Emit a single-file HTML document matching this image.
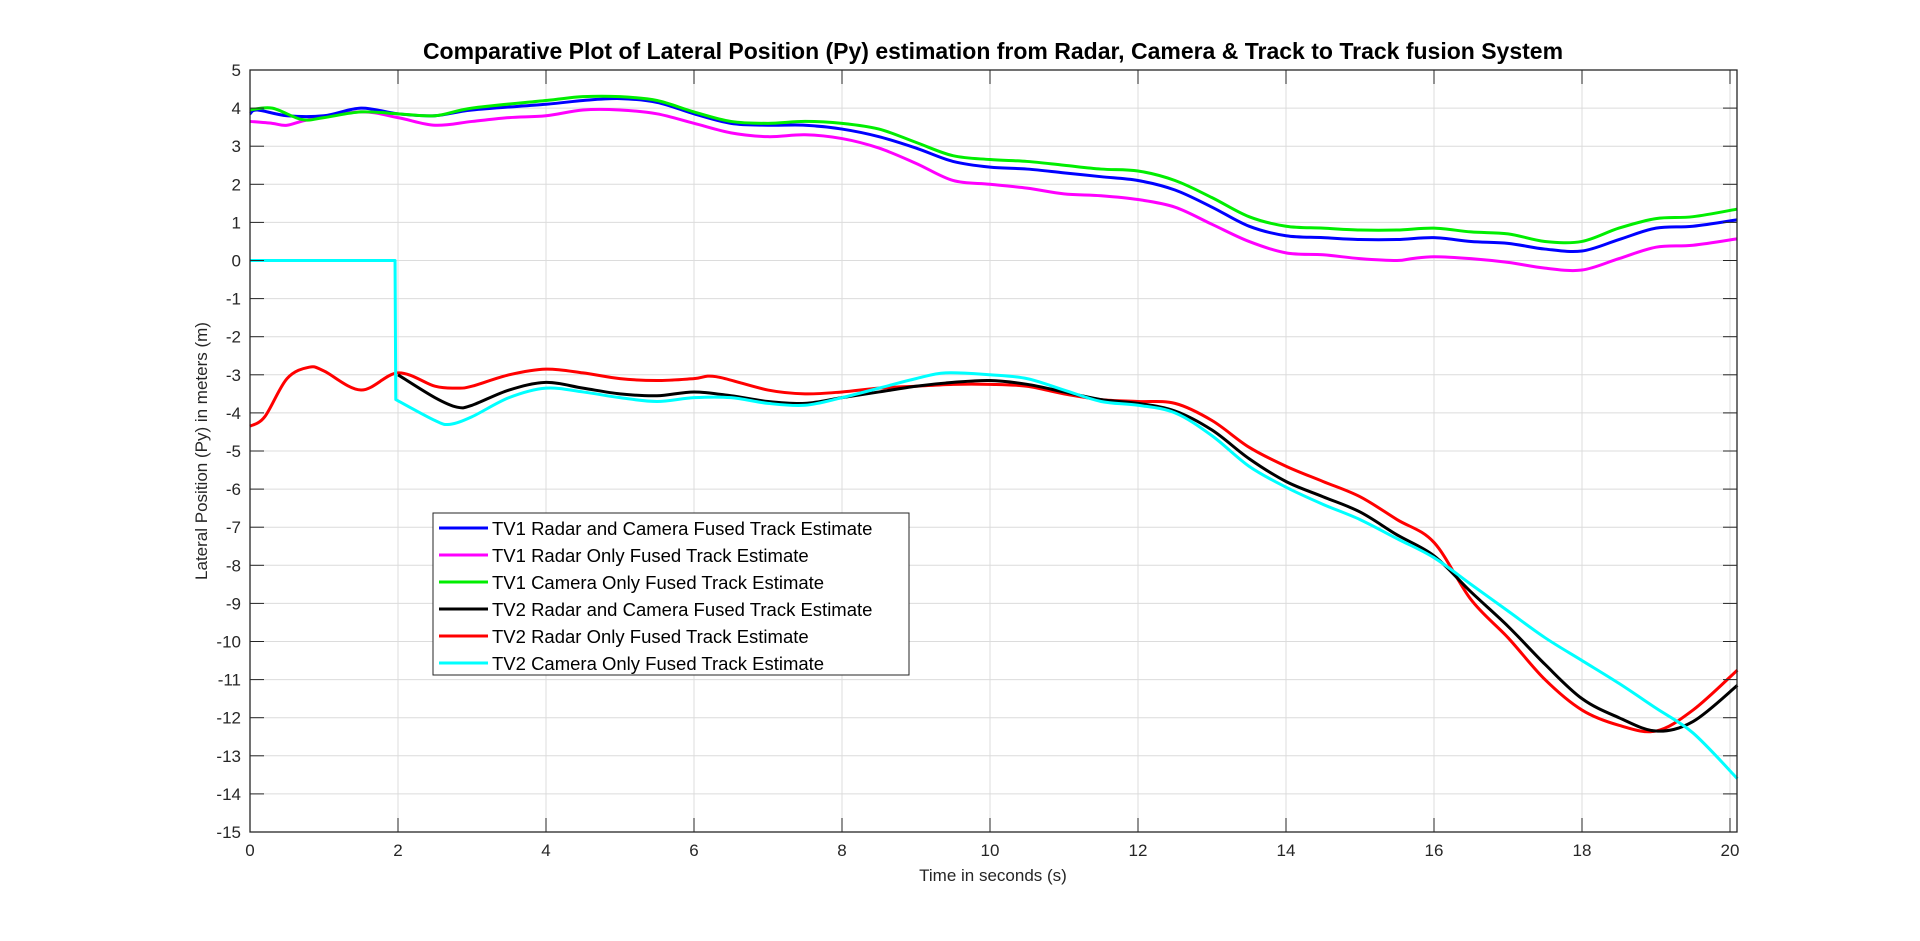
<!DOCTYPE html>
<html><head><meta charset="utf-8"><style>
body{margin:0;background:#fff;}
svg text{font-family:"Liberation Sans",Arial,sans-serif;}
</style></head><body>
<svg id="chart" width="1920" height="936" xmlns="http://www.w3.org/2000/svg">
<rect width="1920" height="936" fill="#fff"/>
<g id="grid"></g>
<g id="series"></g>
<rect x="250" y="70" width="1487" height="762" fill="none" stroke="#262626" stroke-width="1.3"/>
<g id="ticks"></g>
<text x="993" y="59" text-anchor="middle" font-size="23" font-weight="bold" fill="#000">Comparative Plot of Lateral Position (Py) estimation from Radar, Camera &amp; Track to Track fusion System</text>
<text x="993" y="881" text-anchor="middle" font-size="17" fill="#262626">Time in seconds (s)</text>
<text transform="translate(207,451) rotate(-90)" text-anchor="middle" font-size="17" fill="#262626">Lateral Position (Py) in meters (m)</text>
<g id="legend"></g>
</svg>
<script>
const xTicks=[0,2,4,6,8,10,12,14,16,18,20];
const yTicks=[5,4,3,2,1,0,-1,-2,-3,-4,-5,-6,-7,-8,-9,-10,-11,-12,-13,-14,-15];
const seriesNames=["TV1 Radar and Camera Fused Track Estimate","TV1 Radar Only Fused Track Estimate","TV1 Camera Only Fused Track Estimate","TV2 Radar and Camera Fused Track Estimate","TV2 Radar Only Fused Track Estimate","TV2 Camera Only Fused Track Estimate"];
const seriesColors=["#0000ff","#ff00ff","#00ee00","#000000","#ff0000","#00ffff"];
const tv1FusedT=[0,0.1,0.5,1,1.5,2,2.5,3,4,4.5,5,5.5,6,6.5,7,7.5,8,8.5,9,9.5,10,10.5,11,11.5,12,12.5,13,13.5,14,14.5,15,15.5,16,16.5,17,17.5,18,18.5,19,19.5,20.1];
const tv1FusedY=[3.85,3.95,3.8,3.8,4.0,3.85,3.8,3.95,4.1,4.2,4.25,4.15,3.85,3.6,3.55,3.55,3.45,3.25,2.95,2.6,2.45,2.4,2.3,2.2,2.1,1.85,1.4,0.9,0.65,0.6,0.55,0.55,0.6,0.5,0.45,0.3,0.25,0.55,0.85,0.9,1.07];
const tv1RadarT=[0,0.3,0.5,0.8,1.5,2,2.5,3,3.5,4,4.5,5,5.5,6,6.5,7,7.5,8,8.5,9,9.5,10,10.5,11,11.5,12,12.5,13,13.5,14,14.5,15,15.5,15.7,16,16.5,17,17.5,18,18.5,19,19.5,20.1];
const tv1RadarY=[3.65,3.6,3.55,3.7,3.9,3.75,3.55,3.65,3.75,3.8,3.95,3.95,3.85,3.6,3.35,3.25,3.3,3.2,2.95,2.55,2.1,2.0,1.9,1.75,1.7,1.6,1.4,0.95,0.5,0.2,0.15,0.05,0.0,0.05,0.1,0.05,-0.05,-0.2,-0.25,0.05,0.35,0.4,0.57];
const tv1CameraT=[0,0.3,0.7,1,1.5,2,2.5,3,4,4.5,5,5.5,6,6.5,7,7.5,8,8.5,9,9.5,10,10.5,11,11.5,12,12.5,13,13.5,14,14.5,15,15.5,16,16.5,17,17.5,18,18.5,19,19.5,20.1];
const tv1CameraY=[3.95,4.0,3.7,3.75,3.9,3.85,3.8,4.0,4.2,4.3,4.3,4.2,3.9,3.65,3.6,3.65,3.6,3.45,3.1,2.75,2.65,2.6,2.5,2.4,2.35,2.1,1.65,1.15,0.9,0.85,0.8,0.8,0.85,0.75,0.7,0.5,0.5,0.85,1.1,1.15,1.35];
const tv2FusedT=[2,2.5,2.8,3,3.5,4,4.5,5,5.5,6,6.5,7,7.5,8,8.5,9,9.5,10,10.5,11,11.5,12,12.5,13,13.5,14,14.5,15,15.5,16,16.5,17,17.5,18,18.5,19,19.5,20.1];
const tv2FusedY=[-3.0,-3.6,-3.85,-3.8,-3.4,-3.2,-3.35,-3.5,-3.55,-3.45,-3.55,-3.7,-3.75,-3.6,-3.45,-3.3,-3.2,-3.15,-3.25,-3.45,-3.65,-3.75,-3.95,-4.45,-5.2,-5.8,-6.2,-6.6,-7.2,-7.75,-8.7,-9.6,-10.6,-11.5,-12.0,-12.35,-12.1,-11.15];
const tv2RadarT=[0,0.2,0.5,0.8,1,1.5,2,2.5,2.8,3,3.5,4,4.5,5,5.5,6,6.3,7,7.5,8,8.5,9,9.5,10,10.5,11,11.5,12,12.5,13,13.5,14,14.5,15,15.5,16,16.5,17,17.5,18,18.5,19,19.5,20.1];
const tv2RadarY=[-4.35,-4.1,-3.1,-2.8,-2.9,-3.4,-2.95,-3.3,-3.35,-3.3,-3.0,-2.85,-2.95,-3.1,-3.15,-3.1,-3.05,-3.4,-3.5,-3.45,-3.35,-3.3,-3.25,-3.25,-3.3,-3.5,-3.65,-3.7,-3.75,-4.2,-4.9,-5.4,-5.8,-6.2,-6.8,-7.4,-8.9,-9.9,-11.0,-11.8,-12.2,-12.35,-11.8,-10.75];
const tv2CameraT=[0,1.96,1.97,2.5,2.7,3,3.5,4,4.5,5,5.5,6,6.5,7,7.5,8,8.5,9,9.4,10,10.5,11,11.5,12,12.5,13,13.5,14,14.5,15,15.5,16,16.5,17,17.5,18,18.5,19,19.5,20.1];
const tv2CameraY=[0,0,-3.65,-4.2,-4.3,-4.1,-3.6,-3.35,-3.45,-3.6,-3.7,-3.6,-3.6,-3.75,-3.8,-3.6,-3.35,-3.1,-2.95,-3.0,-3.1,-3.4,-3.7,-3.8,-4.0,-4.6,-5.4,-5.95,-6.4,-6.8,-7.3,-7.8,-8.5,-9.2,-9.9,-10.5,-11.1,-11.75,-12.4,-13.6];

const L=250,R=1737,T=70,B=832;
function sx(t){return L+t*74;}
function sy(v){return T+(5-v)*(B-T)/20;}
const NS="http://www.w3.org/2000/svg";
function mk(tag,attrs,parent){const e=document.createElementNS(NS,tag);for(const k in attrs)e.setAttribute(k,attrs[k]);parent.appendChild(e);return e;}
const grid=document.getElementById('grid'),ticks=document.getElementById('ticks');
xTicks.forEach(t=>{
  const g=mk('line',{x1:sx(t),x2:sx(t),y1:T,y2:B,stroke:'#dcdcdc','stroke-width':1},grid);
  
  
  mk('line',{x1:sx(t),x2:sx(t),y1:B,y2:B-14,stroke:'#262626','stroke-width':1},ticks);
  mk('line',{x1:sx(t),x2:sx(t),y1:T,y2:T+14,stroke:'#262626','stroke-width':1},ticks);
  const tx=mk('text',{x:sx(t),y:B+24,'text-anchor':'middle','font-size':17,fill:'#262626'},ticks);
  tx.textContent=t;
  
  
});
yTicks.forEach(v=>{
  const g=mk('line',{x1:L,x2:R,y1:sy(v),y2:sy(v),stroke:'#dcdcdc','stroke-width':1},grid);
  
  
  mk('line',{x1:L,x2:L+14,y1:sy(v),y2:sy(v),stroke:'#262626','stroke-width':1},ticks);
  mk('line',{x1:R,x2:R-14,y1:sy(v),y2:sy(v),stroke:'#262626','stroke-width':1},ticks);
  const tx=mk('text',{x:L-9,y:sy(v)+6,'text-anchor':'end','font-size':17,fill:'#262626'},ticks);
  tx.textContent=v;
  
  
});
function pathD(ts,ys){
  const p=ts.map((t,i)=>[sx(t),sy(ys[i])]);
  let d='M'+p[0][0]+','+p[0][1];
  for(let i=0;i<p.length-1;i++){
    let p0=p[Math.max(0,i-1)];const p1=p[i],p2=p[i+1];let p3=p[Math.min(p.length-1,i+2)];
    if(p2[0]-p1[0]<2){d+=' L'+p2[0]+','+p2[1];continue;}
    if(p1[0]-p0[0]<2)p0=p1;
    if(p3[0]-p2[0]<2)p3=p2;
    const k=1/6;
    const c1=[p1[0]+(p2[0]-p0[0])*k,p1[1]+(p2[1]-p0[1])*k];
    const c2=[p2[0]-(p3[0]-p1[0])*k,p2[1]-(p3[1]-p1[1])*k];
    d+=' C'+c1+' '+c2+' '+p2;
  }
  return d;
}
const ser=document.getElementById('series');
const data=[[tv1FusedT,tv1FusedY],[tv1RadarT,tv1RadarY],[tv1CameraT,tv1CameraY],[tv2FusedT,tv2FusedY],[tv2RadarT,tv2RadarY],[tv2CameraT,tv2CameraY]];
const slugs=['tv1-fused-line','tv1-radar-line','tv1-camera-line','tv2-fused-line','tv2-radar-line','tv2-camera-line'];
const order=[1,0,2,4,3,5];
order.forEach(i=>{
  const p=mk('path',{d:pathD(data[i][0],data[i][1]),fill:'none',stroke:seriesColors[i],'stroke-width':3,'stroke-linejoin':'round'},ser);
  
  
});
const lg=document.getElementById('legend');
mk('rect',{x:433,y:513,width:476,height:162,fill:'#fff',stroke:'#262626','stroke-width':1},lg);
seriesNames.forEach((n,i)=>{
  const y=528+i*27;
  const g=mk('g',{},lg);
  
  
  mk('line',{x1:439,x2:488,y1:y,y2:y,stroke:seriesColors[i],'stroke-width':3},g);
  const t=mk('text',{x:492,y:y+7,'font-size':18.5,fill:'#000'},g);
  t.textContent=n;
});
</script>
</body></html>
